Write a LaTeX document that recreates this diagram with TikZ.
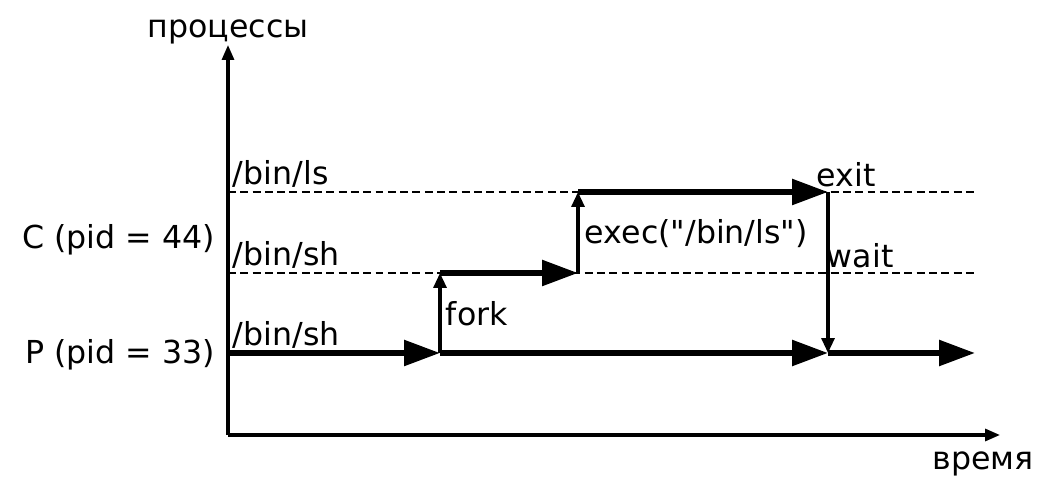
\documentclass[tikz,border=0pt]{standalone}
\usepackage{fontspec}
\setmainfont{DejaVu Sans}
\usetikzlibrary{arrows.meta}
\tikzset{
  axis/.style={line width=1.8pt,-{Triangle[length=0.3cm,width=0.24cm]}},
  track/.style={line width=1pt,dash pattern=on 4.5pt off 2.5pt},
  life/.style={line width=3.2pt,-{Triangle[length=0.72cm,width=0.5cm]}},
  event/.style={line width=1.8pt,-{Triangle[length=0.3cm,width=0.26cm]}},
  lbl/.style={inner sep=1.5pt,font=\fontsize{18}{21}\selectfont}
}
\begin{document}
\begin{tikzpicture}[x=0.02cm,y=0.02cm]
  \useasboundingbox (0,0) rectangle (1055,480);
  % axes
  \coordinate (O) at (228,45);
  \coordinate (ytop) at (228,435);
  \coordinate (xend) at (1000,45);
  \draw[axis] (O) -- (ytop);
  \draw[axis] (O) -- (xend);
  \node[lbl,anchor=base] (ylab) at (228,442) {процессы};
  \node[lbl] (xlab) at (983,16) {время};
  % levels
  \coordinate (lsA) at (228,288);
  \coordinate (lsB) at (975,288);
  \coordinate (shA) at (228,207);
  \coordinate (shB) at (975,207);
  \coordinate (pA) at (228,127);
  \draw[track] (lsA) -- (lsB);
  \draw[track] (shA) -- (shB);
  % events
  \coordinate (forkP) at (440,127);
  \coordinate (forkC) at (440,207);
  \coordinate (execA) at (578,207);
  \coordinate (execB) at (578,288);
  \coordinate (exitC) at (828,288);
  \coordinate (waitP) at (828,127);
  \coordinate (pEnd) at (975,127);
  \draw[life] (pA) -- (forkP);
  \draw[life] (forkP) -- (waitP);
  \draw[life] (waitP) -- (pEnd);
  \draw[life] (forkC) -- (execA);
  \draw[life] (execB) -- (exitC);
  \draw[event] (forkP) -- (forkC);
  \draw[event] (execA) -- (execB);
  \draw[event] (exitC) -- (waitP);
  % labels
  \node[lbl,anchor=east] (cpid) at (218,240) {C (pid = 44)};
  \node[lbl,anchor=east] (ppid) at (218,125) {P (pid = 33)};
  \node[lbl,anchor=south west] (lsname) at (230,290) {/bin/ls};
  \node[lbl,anchor=south west] (shname) at (230,209) {/bin/sh};
  \node[lbl,anchor=south west] (pname) at (230,129) {/bin/sh};
  \node[lbl,anchor=west] (forklab) at (443,166) {fork};
  \node[lbl,anchor=west] (execlab) at (582,246) {exec(\textquotedbl/bin/ls\textquotedbl)};
  \node[lbl,anchor=south west] (exitlab) at (814,290) {exit};
  \node[lbl,anchor=south west] (waitlab) at (824,209) {wait};
\end{tikzpicture}
\end{document}
